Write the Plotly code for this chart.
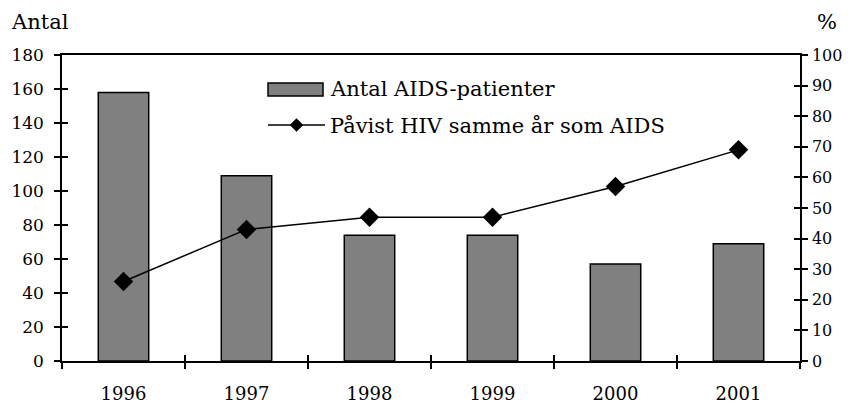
import plotly.graph_objects as go

years = ["1996", "1997", "1998", "1999", "2000", "2001"]
antal_aids = [158, 109, 74, 74, 57, 69]
pavist_hiv_pct = [26, 43, 47, 47, 57, 69]
left_ticks = list(range(0, 181, 20))
right_ticks = list(range(0, 101, 10))
legend_labels = ["Antal AIDS-patienter", "Påvist HIV samme år som AIDS"]

FONT = "DejaVu Serif"
OFF = 8  # page body margin
W, H = 852, 403
ML, MR, MT, MB = 54, 60, 47, 50
PW, PH = W - ML - MR, H - MT - MB


def px(x):
    return (x - OFF - ML) / PW


def py(y):
    return (H - MB - (y - OFF)) / PH


fig = go.Figure()
fig.add_trace(go.Bar(
    x=years, y=antal_aids, name=legend_labels[0],
    marker=dict(color="#808080", line=dict(color="black", width=1.5)),
    yaxis="y", xaxis="x",
))
fig.add_trace(go.Scatter(
    x=years, y=pavist_hiv_pct, name=legend_labels[1],
    mode="lines+markers", line=dict(color="black", width=1.5),
    marker=dict(symbol="diamond", size=15, color="black"),
    yaxis="y2", xaxis="x",
))

axis_common = dict(showgrid=False, zeroline=False, linecolor="black", linewidth=1.5,
                   tickcolor="black", tickwidth=1.5, ticklen=6, automargin=False,
                   tickfont=dict(family=FONT, size=17, color="black"))
no_font = {k: v for k, v in axis_common.items() if k != "tickfont"}

txt_font = dict(family=FONT, size=21, color="black")

shapes = [
    # legend key: bar
    dict(type="rect", xref="paper", yref="paper", x0=px(268), x1=px(323),
         y0=py(96), y1=py(83), fillcolor="#808080", line=dict(color="black", width=1.5)),
    # legend key: line
    dict(type="line", xref="paper", yref="paper", x0=px(268), x1=px(325),
         y0=py(125), y1=py(125), line=dict(color="black", width=1.5)),
    dict(type="path", xref="paper", yref="paper",
         path=f"M {px(290)} {py(125)} L {px(296.5)} {py(118.5)} L {px(303)} {py(125)} "
              f"L {px(296.5)} {py(131.5)} Z",
         fillcolor="black", line=dict(color="black", width=0.5)),
]

annotations = [
    dict(text="Antal", x=px(9), y=py(22), xref="paper", yref="paper", xanchor="left",
         yanchor="middle", showarrow=False, font=txt_font),
    dict(text="%", x=px(815), y=py(22), xref="paper", yref="paper", xanchor="left",
         yanchor="middle", showarrow=False, font=txt_font),
    dict(text=legend_labels[0], x=px(328), y=py(89), xref="paper", yref="paper",
         xanchor="left", yanchor="middle", showarrow=False, font=txt_font),
    dict(text=legend_labels[1], x=px(328), y=py(126), xref="paper", yref="paper",
         xanchor="left", yanchor="middle", showarrow=False, font=txt_font),
]

fig.update_layout(
    width=W, height=H,
    margin=dict(l=ML, r=MR, t=MT, b=MB),
    plot_bgcolor="white", paper_bgcolor="white",
    bargap=0.59,
    showlegend=False,
    xaxis=dict(**no_font, tickfont=dict(family=FONT, size=18, color="black"),
               type="category", ticks="outside", tickson="boundaries",
               mirror=True, showline=True, ticklabelstandoff=16),
    xaxis2=dict(**axis_common, type="category", overlaying="x",
                matches="x", ticks="inside", tickson="boundaries", showticklabels=False,
                showline=False, side="bottom", anchor="y"),
    yaxis=dict(**axis_common, range=[0, 180], tickvals=left_ticks, ticks="outside",
               showline=True, mirror=False, ticklabelstandoff=7),
    yaxis2=dict(**no_font, tickfont=dict(family=FONT, size=16, color="black"),
                range=[0, 100], tickvals=right_ticks, ticks="outside",
                overlaying="y", side="right", showline=True, anchor="x",
                ticklabelstandoff=1),
    yaxis3=dict(**axis_common, range=[0, 180], tickvals=left_ticks, ticks="inside",
                overlaying="y", side="left", showline=False, showticklabels=False, anchor="x"),
    yaxis4=dict(**axis_common, range=[0, 100], tickvals=right_ticks, ticks="inside",
                overlaying="y", side="right", showline=False, showticklabels=False, anchor="x"),
    shapes=shapes,
    annotations=annotations,
)

# invisible traces to make the overlay tick axes render
fig.add_trace(go.Scatter(x=years, y=[None]*len(years), xaxis="x2", yaxis="y3",
                         showlegend=False, hoverinfo="skip"))
fig.add_trace(go.Scatter(x=years, y=[None]*len(years), xaxis="x", yaxis="y4",
                         showlegend=False, hoverinfo="skip"))

fig.write_html("out.html")
